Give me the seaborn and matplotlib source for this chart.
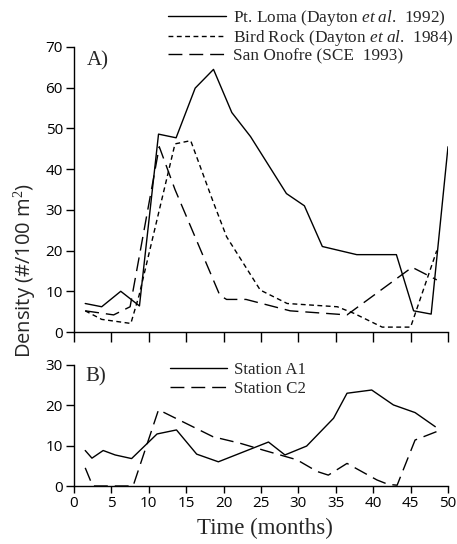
import matplotlib
matplotlib.use("Agg")
import matplotlib.pyplot as plt
import seaborn as sns
import pandas as pd

# ---- Data ----
loma_t = [1.5, 3.7, 6.25, 8.75, 11.3, 13.65, 16.2, 18.65, 21.1, 23.6, 26.0, 28.4, 30.8, 33.2, 37.8, 43.1, 45.4, 47.75, 50.0]
loma_v = [7.0, 6.2, 10.0, 6.4, 48.6, 47.7, 59.9, 64.5, 53.9, 48.0, 41.0, 34.0, 31.0, 21.0, 19.0, 19.0, 5.2, 4.4, 45.5]

bird_t = [1.5, 3.7, 7.6, 8.7, 13.5, 15.6, 18.6, 20.4, 24.9, 28.5, 35.2, 37.4, 41.2, 45.0, 48.5]
bird_v = [5.2, 3.1, 2.1, 9.0, 46.2, 47.0, 32.0, 23.4, 10.3, 7.0, 6.2, 4.6, 1.2, 1.2, 20.0]

onofre_t = [1.5, 5.3, 7.5, 11.4, 13.5, 19.5, 20.4, 23.0, 28.9, 36.5, 45.2, 48.5]
onofre_v = [5.2, 4.2, 6.2, 45.5, 35.0, 9.0, 8.0, 8.0, 5.2, 4.2, 15.9, 12.8]

a1_t = [1.5, 2.4, 3.9, 5.5, 7.7, 11.1, 13.7, 16.4, 19.3, 26.0, 28.2, 31.1, 34.7, 36.5, 39.8, 42.7, 45.6, 48.3]
a1_v = [8.8, 6.9, 8.8, 7.7, 6.8, 12.9, 13.9, 7.9, 6.0, 10.9, 7.7, 9.9, 16.8, 23.0, 23.8, 20.1, 18.2, 14.7]

c2_t = [1.5, 2.5, 7.9, 11.3, 18.6, 22.2, 25.3, 29.8, 32.5, 34.0, 36.5, 40.5, 42.0, 43.2, 45.6, 48.5]
c2_v = [4.5, 0.0, 0.0, 18.9, 12.2, 10.6, 8.9, 6.5, 3.6, 2.7, 5.6, 1.5, 0.4, 0.2, 11.4, 13.5]

labels_top = ["Pt. Loma (Dayton $\\it{et\\ al}$.  1992)",
              "Bird Rock (Dayton $\\it{et\\ al}$.  1984)",
              "San Onofre (SCE  1993)"]
labels_bot = ["Station A1", "Station C2"]
xticks = [0, 5, 10, 15, 20, 25, 30, 35, 40, 45, 50]
yticks_top = [0, 10, 20, 30, 40, 50, 60, 70]
yticks_bot = [0, 10, 20, 30]

sns.set_style("ticks")
plt.rcParams['font.family'] = ['Open Sans', 'DejaVu Sans']
plt.rcParams['mathtext.fontset'] = 'custom'
plt.rcParams['mathtext.rm'] = 'Liberation Serif'
plt.rcParams['mathtext.it'] = 'Liberation Serif:italic'

SERIF = ['Liberation Serif', 'DejaVu Serif']

fig = plt.figure(figsize=(4.57, 5.44), dpi=100)
ax1 = fig.add_axes([74/457, 1-332/544, 374/457, 285/544])
ax2 = fig.add_axes([74/457, 1-486/544, 374/457, 121/544])

styles_top = [None, (0, (3.5, 2.5)), (0, (10, 5))]
top_series = [(loma_t, loma_v), (bird_t, bird_v), (onofre_t, onofre_v)]
for (t, v), lab, dash in zip(top_series, labels_top, styles_top):
    df = pd.DataFrame({"t": t, "v": v})
    kw = dict(color="black", linewidth=1.0, label=lab)
    if dash is not None:
        kw["linestyle"] = dash
    sns.lineplot(data=df, x="t", y="v", ax=ax1, **kw)

bot_series = [(a1_t, a1_v), (c2_t, c2_v)]
bot_dash = [None, (0, (10, 5))]
for (t, v), lab, dash in zip(bot_series, labels_bot, bot_dash):
    df = pd.DataFrame({"t": t, "v": v})
    kw = dict(color="black", linewidth=1.0, label=lab)
    if dash is not None:
        kw["linestyle"] = dash
    sns.lineplot(data=df, x="t", y="v", ax=ax2, **kw)

for ax, yt in [(ax1, yticks_top), (ax2, yticks_bot)]:
    ax.set_xlim(0, 50)
    ax.set_ylim(0, yt[-1])
    ax.set_xticks(xticks)
    ax.set_yticks(yt)
    ax.spines['top'].set_visible(False)
    ax.spines['right'].set_visible(False)
    for s in ['left', 'bottom']:
        ax.spines[s].set_linewidth(1.0)
        ax.spines[s].set_color('black')
    ax.tick_params(axis='both', direction='out', length=6, width=1.0,
                   colors='black', labelsize=11, pad=2)
    ax.set_xlabel("")
    ax.set_ylabel("")

ax1.tick_params(axis='x', labelbottom=False, length=7)
ax2.tick_params(axis='x', length=5)

ax1.text(0.035, 0.985, "A)", transform=ax1.transAxes, ha='left', va='top',
         fontsize=15, family=SERIF)
ax2.text(0.03, 0.98, "B)", transform=ax2.transAxes, ha='left', va='top',
         fontsize=15, family=SERIF)

leg1 = ax1.legend(loc='upper left', bbox_to_anchor=(168/457, 1-8/544),
                  bbox_transform=fig.transFigure, frameon=False,
                  prop={'family': SERIF, 'size': 12.4}, handlelength=3.35,
                  handletextpad=0.4, labelspacing=0.0, borderpad=0, borderaxespad=0)
leg2 = ax2.legend(loc='upper left', bbox_to_anchor=(170/457, 1-362/544),
                  bbox_transform=fig.transFigure, frameon=False,
                  prop={'family': SERIF, 'size': 12.2}, handlelength=3.35,
                  handletextpad=0.4, labelspacing=0.15, borderpad=0, borderaxespad=0)

fig.text(25/457, 1-270/544, "Density (#/100 m$^2$)", rotation=90, ha='center',
         va='center', fontsize=14.5, family=['Open Sans', 'DejaVu Sans'])
fig.text(265/457, 1-528/544, "Time (months)", ha='center', va='center',
         fontsize=16.5, family=SERIF)

fig.savefig("out.png", dpi=100)
